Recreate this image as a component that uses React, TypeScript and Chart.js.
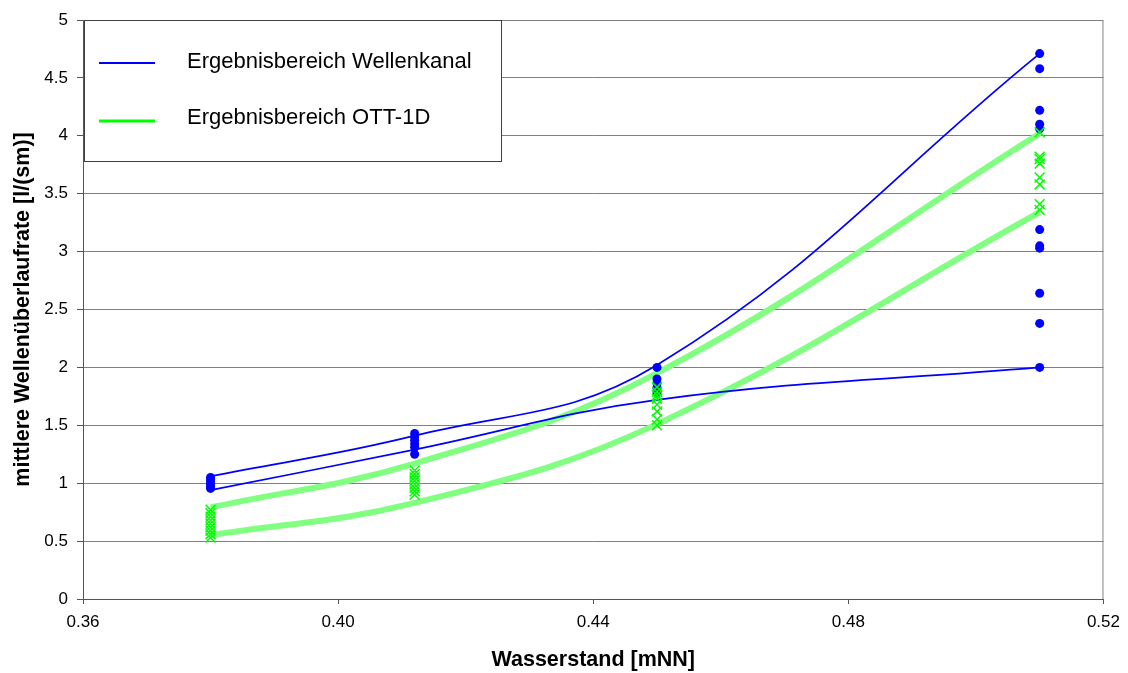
import React, { useEffect, useRef } from "react";
import { Chart, registerables } from "chart.js";

Chart.register(...registerables);

// Water levels (x categories)
const levels = [0.38, 0.412, 0.45, 0.51];

// Envelope curves
const wellenkanalUpper = [1.06, 1.41, 2.02, 4.71];
const wellenkanalLower = [0.94, 1.29, 1.72, 2.0];
const ottUpper = [0.79, 1.17, 1.95, 4.02];
const ottLower = [0.55, 0.83, 1.51, 3.34];

// Measured values (Wellenkanal), one list per water level
const kanal038 = [1.05, 1.03, 1.01, 0.99, 0.97, 0.955];
const kanal0412 = [1.43, 1.4, 1.37, 1.34, 1.31, 1.25];
const kanal045 = [2.0, 1.9, 1.86, 1.82, 1.78];
const kanal051 = [4.71, 4.58, 4.22, 4.1, 4.06, 3.19, 3.05, 3.03, 2.64, 2.38, 2.0];

// Computed values (OTT-1D), one list per water level
const ott038 = [0.77, 0.74, 0.71, 0.68, 0.65, 0.62, 0.59, 0.56, 0.53];
const ott0412 = [1.11, 1.08, 1.05, 1.02, 0.99, 0.96, 0.93, 0.9];
const ott045 = [1.83, 1.79, 1.76, 1.73, 1.68, 1.62, 1.55, 1.5];
const ott051 = [4.03, 3.82, 3.8, 3.76, 3.64, 3.58, 3.41, 3.36];

const yTicks = [0, 0.5, 1, 1.5, 2, 2.5, 3, 3.5, 4, 4.5, 5];
const xTicks = [0.36, 0.4, 0.44, 0.48, 0.52];

const legendLabels = ["Ergebnisbereich Wellenkanal", "Ergebnisbereich OTT-1D"];
const legendColors = ["#0000FF", "#00FF00"];

const FONT = "'Liberation Sans', Arial, sans-serif";

const curve = (ys: number[]) => ys.map((y, i) => ({ x: levels[i], y }));
const columns = (cols: number[][]) =>
  cols.flatMap((col, i) => col.map((y) => ({ x: levels[i], y })));

const legendPlugin = {
  id: "boxLegend",
  afterDraw(chart: any) {
    const ctx = chart.ctx;
    const area = chart.chartArea;
    ctx.save();
    // plot border
    ctx.strokeStyle = "#808080";
    ctx.lineWidth = 1;
    ctx.beginPath();
    ctx.moveTo(area.left, area.top + 0.5);
    ctx.lineTo(area.right - 0.5, area.top + 0.5);
    ctx.lineTo(area.right - 0.5, area.bottom);
    ctx.stroke();
    // legend box
    const bx = 84.5, by = 20.5, bw = 417, bh = 141;
    ctx.fillStyle = "#FFFFFF";
    ctx.fillRect(bx, by, bw, bh);
    ctx.strokeStyle = "#404040";
    ctx.lineWidth = 1;
    ctx.strokeRect(bx, by, bw, bh);
    const rows = [63, 121];
    const textRows = [62, 118];
    legendLabels.forEach((label, i) => {
      ctx.strokeStyle = legendColors[i];
      ctx.lineWidth = i === 0 ? 2 : 3;
      ctx.beginPath();
      ctx.moveTo(99, rows[i]);
      ctx.lineTo(155, rows[i]);
      ctx.stroke();
      ctx.fillStyle = "#000000";
      ctx.font = `22px ${FONT}`;
      ctx.textBaseline = "middle";
      ctx.textAlign = "left";
      ctx.fillText(label, 187, textRows[i]);
    });
    ctx.restore();
  },
};

export default function App() {
  const canvasRef = useRef<HTMLCanvasElement | null>(null);

  useEffect(() => {
    if (!canvasRef.current) return;
    const lineBase = { showLine: true, pointRadius: 0, tension: 0.4, fill: false };
    const chart = new Chart(canvasRef.current, {
      type: "scatter",
      data: {
        datasets: [
          { ...lineBase, label: "OTT oben", data: curve(ottUpper), borderColor: "#80FF80", borderWidth: 6, order: 5 },
          { ...lineBase, label: "OTT unten", data: curve(ottLower), borderColor: "#80FF80", borderWidth: 6, order: 5 },
          { ...lineBase, label: "Kanal oben", data: curve(wellenkanalUpper), borderColor: "#0000FF", borderWidth: 1.75, order: 4 },
          { ...lineBase, label: "Kanal unten", data: curve(wellenkanalLower), borderColor: "#0000FF", borderWidth: 1.75, order: 4 },
          {
            label: "Wellenkanal",
            data: columns([kanal038, kanal0412, kanal045, kanal051]),
            pointStyle: "circle",
            pointRadius: 4.5,
            backgroundColor: "#0000FF",
            borderColor: "#0000FF",
            borderWidth: 0,
            order: 2,
          },
          {
            label: "OTT-1D",
            data: columns([ott038, ott0412, ott045, ott051]),
            pointStyle: "crossRot",
            pointRadius: 7,
            borderColor: "#00FF00",
            backgroundColor: "#00FF00",
            borderWidth: 1.5,
            order: 1,
          },
        ],
      },
      options: {
        responsive: false,
        animation: false,
        layout: { padding: { top: 20, right: 24, left: 0, bottom: 0 } },
        plugins: { legend: { display: false }, tooltip: { enabled: false } },
        scales: {
          x: {
            type: "linear",
            min: 0.36,
            max: 0.52,
            afterFit: (s: any) => { s.height = 74; },
            afterBuildTicks: (s: any) => { s.ticks = xTicks.map((v) => ({ value: v })); },
            grid: { drawOnChartArea: false, drawTicks: true, tickLength: 5, tickColor: "#555555" },
            border: { color: "#555555", width: 1 },
            ticks: {
              padding: 8,
              color: "#000000",
              font: { family: FONT, size: 17 },
              callback: (v: any) => Number(v).toFixed(2),
              maxRotation: 0,
            },
            title: {
              display: true,
              text: "Wasserstand [mNN]",
              color: "#000000",
              font: { family: FONT, size: 21.5, weight: "bold" },
              padding: { top: 0, bottom: 0 },
            },
          },
          y: {
            type: "linear",
            min: 0,
            max: 5,
            afterFit: (s: any) => { s.width = 83; },
            afterBuildTicks: (s: any) => { s.ticks = yTicks.map((v) => ({ value: v })); },
            grid: { color: "#808080", lineWidth: 1, drawTicks: true, tickLength: 6, tickColor: "#555555" },
            border: { color: "#555555", width: 1 },
            ticks: {
              padding: 9,
              color: "#000000",
              font: { family: FONT, size: 17 },
              callback: (v: any) => String(v),
            },
            title: {
              display: true,
              text: "mittlere Wellenüberlaufrate [l/(sm)]",
              color: "#000000",
              font: { family: FONT, size: 21.5, weight: "bold" },
              padding: { top: 10, bottom: 0 },
            },
          },
        },
      },
      plugins: [legendPlugin],
    });
    return () => chart.destroy();
  }, []);

  return (
    <div style={{ position: "fixed", left: 0, top: 0, width: 1128, height: 673, background: "#fff" }}>
      <canvas ref={canvasRef} width={1128} height={673} style={{ width: 1128, height: 673 }} />
    </div>
  );
}
